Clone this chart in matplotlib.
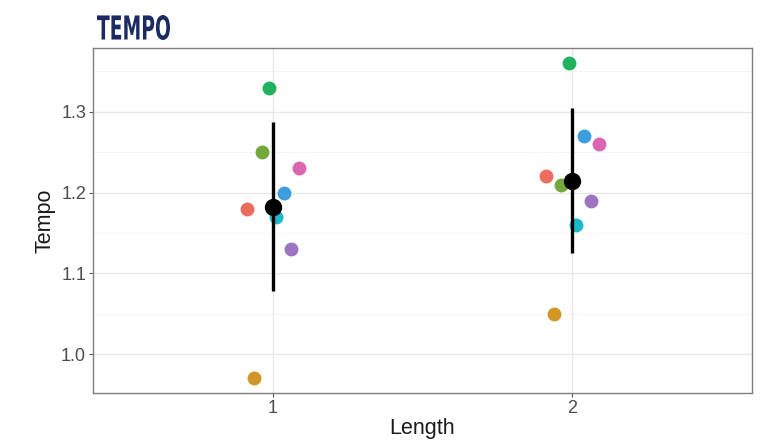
import numpy as np
import matplotlib
matplotlib.use('Agg')
import matplotlib.pyplot as plt
from matplotlib.textpath import TextPath
from matplotlib.patches import PathPatch
from matplotlib.font_manager import FontProperties
import matplotlib.transforms as mtrans

# 참가자별 Tempo 값 (Length 1, 2)
lengths = [1, 2]
participant_colors = ['#EE6C5E', '#D09628', '#72A93A', '#20B35E',
                      '#1DB9CB', '#3E9CE0', '#9C74C2', '#DA66B2']
tempo_len1 = [1.18, 0.97, 1.25, 1.33, 1.17, 1.20, 1.13, 1.23]
tempo_len2 = [1.22, 1.05, 1.21, 1.36, 1.16, 1.27, 1.19, 1.26]
yticks = [1.0, 1.1, 1.2, 1.3]

tempo = np.array([tempo_len1, tempo_len2])
n = tempo.shape[1]
dodge = 0.2
offsets = (np.arange(n) - (n - 1) / 2) / n * dodge

plt.rcParams['font.family'] = ['Liberation Sans', 'DejaVu Sans']

fig = plt.figure(figsize=(7.68, 4.47), dpi=100)
ax = fig.add_axes([0.1211, 0.1208, 0.8581, 0.7718])

# 그리드 (ggplot theme_bw 느낌)
for y in np.arange(0.95, 1.36, 0.05):
    major = any(abs(y - t) < 1e-6 for t in yticks)
    ax.axhline(y, color='#e8e8e8' if major else '#f3f3f3', lw=1.0 if major else 0.6, zorder=0)
for x in lengths:
    ax.axvline(x, color='#e8e8e8', lw=1.0, zorder=0)

# 참가자별 점
for j in range(n):
    ax.plot(np.array(lengths) + offsets[j], tempo[:, j], 'o', color=participant_colors[j],
            ms=10, mec='none', zorder=3)

# 평균 ± 표준편차
means = tempo.mean(axis=1)
sds = tempo.std(axis=1, ddof=1)
ax.errorbar(lengths, means, yerr=sds, fmt='o', color='black', ms=11.5,
            elinewidth=2.4, capsize=0, zorder=4)

ax.set_xlim(0.4, 2.6)
ax.set_ylim(0.952, 1.379)
ax.set_xticks(lengths)
ax.set_yticks(yticks)
ax.set_yticklabels(['%.1f' % t for t in yticks])
ax.tick_params(colors='#555555', labelsize=13, length=3, width=0.8, pad=2, labelcolor='#4d4d4d')
for s in ax.spines.values():
    s.set_color('#7f7f7f')
    s.set_linewidth(1.0)

ax.set_xlabel('Length', fontsize=15.5, color='#1a1a1a', labelpad=1)
ax.set_ylabel('Tempo', fontsize=15.5, color='#1a1a1a', labelpad=4)

# 제목: 좁고 굵은 글꼴 대신 글자 모양을 가로로 눌러서 그린다
tp = TextPath((0, 0), 'TEMPO', size=1, prop=FontProperties(family='DejaVu Sans', weight='bold'))
ext = tp.get_extents()
x0, x1, y0, y1 = 97, 170, 447 - 40, 447 - 15
tr = (mtrans.Affine2D()
      .translate(-ext.x0, -ext.y0)
      .scale((x1 - x0) / ext.width, (y1 - y0) / ext.height)
      .translate(x0, y0))
fig.patches.append(PathPatch(tr.transform_path(tp), facecolor='#1b2a63', edgecolor='none',
                             transform=mtrans.IdentityTransform(), figure=fig))

fig.savefig('out.png', dpi=100)
